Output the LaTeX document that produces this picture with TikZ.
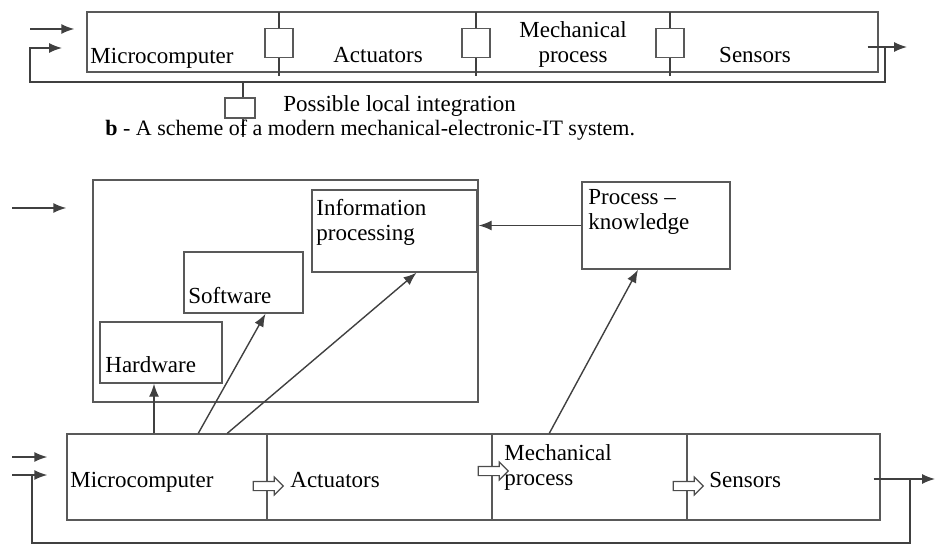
\documentclass[tikz,border=0pt]{standalone}
\usepackage{fontspec}
\setmainfont{Liberation Serif}
\usetikzlibrary{positioning, arrows, arrows.meta, calc, fit, shapes.arrows}

\tikzset{
  box/.style={draw=black!65, line width=0.7pt, inner sep=0pt},
  sqr/.style={draw=black!65, line width=0.7pt, fill=white, minimum width=14pt, minimum height=14.5pt, inner sep=0pt},
  txt/.style={inner sep=0pt, font=\fontsize{11.5}{12.5}\selectfont, align=left},
  wire/.style={draw=black!75, line width=0.7pt},
  arr/.style={wire, -{Latex[length=6.5pt, width=5pt]}},
  hollow/.style={single arrow, draw=black!70, line width=0.6pt, fill=white, minimum height=15pt,
    inner xsep=0pt, inner ysep=2pt, single arrow head extend=2.2pt},
}

\begin{document}
\begin{tikzpicture}[x=0.5pt, y=-0.5pt]
    \useasboundingbox (0,0) rectangle (936,545);

    % top scheme
    \node[box, fit={(87,12) (878,72)}] (bar) {};
    \foreach \x/\n in {279/a, 476/b, 670/c} {
        \draw[wire] (\x,12) -- (\x,76);
        \node[sqr] (sq\n) at (\x,43) {};
    }
    \node[txt, anchor=base] (tmc) at (162,64) {Microcomputer};
    \node[txt, anchor=base] (tact) at (378,63) {Actuators};
    \node[txt, anchor=north, align=center] (tmech) at (573,21) {Mechanical\\process};
    \node[txt, anchor=base] (tsens) at (755,63) {Sensors};

    \coordinate (in1) at (30,29);
    \coordinate (in2) at (30,48);
    \coordinate (fb1) at (885,47);
    \coordinate (out1) at (907,47);
    \draw[arr] (in1) -- ([xshift=-6pt]bar.west |- in1);
    \draw[arr] ([xshift=-5.5pt]bar.east |- out1) -- (out1);
    \draw[arr] (fb1) |- ($(in2)+(0,34)$) -- (in2) -- ++(32,0);

    % local integration
    \draw[wire] (243,82) -- (243,137);
    \node[sqr, minimum width=15pt, minimum height=10pt] (sqd) at (240,108) {};
    \node[txt, anchor=base west] (tloc) at (283,112) {Possible local integration};
    \node[txt, anchor=base west, font=\fontsize{11}{12}\selectfont] (cap) at (105,136)
        {\textbf{b} - A scheme of a modern mechanical-electronic-IT system.};

    % bottom scheme
    \node[box, fit={(93,180) (478,402)}] (ctrl) {};
    \node[box, fit={(312,190) (477,272)}] (info) {};
    \node[box, fit={(184,252) (303,313)}] (sw) {};
    \node[box, fit={(100,322) (222,383)}] (hw) {};
    \node[box, fit={(582,182) (730,269)}] (proc) {};
    \node[txt, anchor=north west] (tinfo) at (316,199) {Information\\processing};
    \node[txt, anchor=north west] (tproc) at (588,189) {Process –\\knowledge};
    \node[txt, anchor=base west] (tsw) at (188,303) {Software};
    \node[txt, anchor=base west] (thw) at (105,372) {Hardware};

    \node[box, fit={(67,434) (267,520)}] (mc) {};
    \node[box, fit={(267,434) (492,520)}] (act) {};
    \node[box, fit={(492,434) (687,520)}] (mech) {};
    \node[box, fit={(687,434) (880,520)}] (sens) {};
    \node[txt, anchor=base west] (bmc) at (70,487) {Microcomputer};
    \node[txt, anchor=base west] (bact) at (290,487) {Actuators};
    \node[txt, anchor=north west] (bmech) at (504,444) {Mechanical\\process};
    \node[txt, anchor=base west] (bsens) at (709,487) {Sensors};

    \node[hollow] (h1) at (266,486) {};
    \node[hollow] (h2) at (491,471) {};
    \node[hollow] (h3) at (686,486) {};

    \draw[arr] (proc.west) -- (proc.west -| ctrl.east);
    \draw[arr] ([xshift=-3.5pt]hw.south |- mc.north) -- ([xshift=-3.5pt]hw.south);
    \draw[arr] ([xshift=66pt]mc.north west) -- ([xshift=11pt]sw.south);
    \draw[arr] ([xshift=80.5pt]mc.north west) -- ([xshift=11pt]info.south);
    \draw[arr] ([xshift=29pt]mech.north west) -- ([xshift=-9pt]proc.south);

    \coordinate (in3) at (12,208);
    \coordinate (in4) at (12,457);
    \coordinate (in5) at (12,475);
    \coordinate (fb2) at (910,479);
    \coordinate (out2) at (935,479);
    \draw[arr] (in3) -- ([xshift=-13pt]ctrl.west |- in3);
    \draw[arr] (in4) -- ([xshift=-9.5pt]mc.west |- in4);
    \draw[arr] (in5) -- ([xshift=-9.5pt]mc.west |- in5);
    \draw[wire] (fb2) |- (32,543) -- (32,475);
    \draw[arr] ([xshift=-3.5pt]sens.east |- fb2) -- (out2);
\end{tikzpicture}
\end{document}
